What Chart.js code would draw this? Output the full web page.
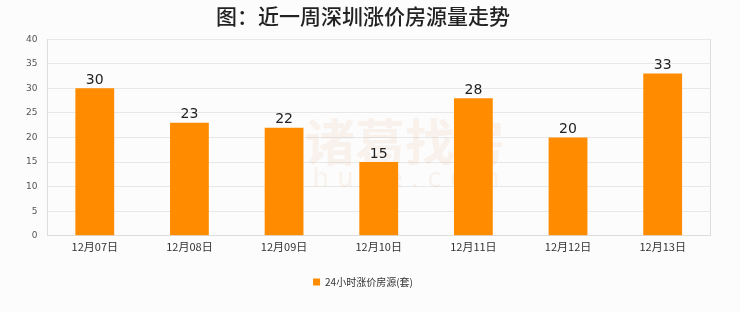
<!DOCTYPE html>
<html>
<head>
<meta charset="utf-8">
<script src="https://cdn.jsdelivr.net/npm/chart.js@4.4.0/dist/chart.umd.min.js"></script>
<style>
  html, body { margin: 0; padding: 0; background: #fcfcfc; }
  #wrap { width: 740px; height: 312px; position: relative; }
</style>
</head>
<body>
<div id="wrap"><canvas id="chart"></canvas></div>
<script>
// 数据
const days = ['12月07日', '12月08日', '12月09日', '12月10日', '12月11日', '12月12日', '12月13日'];
const risingListings = [30, 23, 22, 15, 28, 20, 33];
const seriesName = '24小时涨价房源(套)';
const chartTitle = '图：近一周深圳涨价房源量走势';

// 柱顶数值 + 水印
const extras = {
    id: 'extras',
    beforeDatasetsDraw(chart) {
        const { ctx } = chart;
        ctx.save();
        ctx.globalAlpha = 0.08;
        ctx.fillStyle = '#d9782a';
        ctx.textAlign = 'center';
        ctx.textBaseline = 'middle';
        ctx.font = 'bold 50px "Noto Sans CJK SC"';
        ctx.fillText('诸葛找房', 405, 142);
        ctx.font = '26px "DejaVu Sans"';
        ctx.fillText('z h u g e . c o m', 395, 180);
        ctx.restore();
    },
    afterDatasetsDraw(chart) {
        const { ctx } = chart;
        const meta = chart.getDatasetMeta(0);
        ctx.save();
        ctx.fillStyle = '#222';
        ctx.font = '14px "DejaVu Sans"';
        ctx.textAlign = 'center';
        ctx.textBaseline = 'bottom';
        meta.data.forEach((bar, i) => {
            ctx.fillText(risingListings[i], bar.x, bar.y - 1);
        });
        ctx.restore();
    }
};

new Chart(document.getElementById('chart'), {
    type: 'bar',
    data: {
        labels: days,
        datasets: [{
            label: seriesName,
            data: risingListings,
            backgroundColor: '#ff8c00',
            borderWidth: 0,
            categoryPercentage: 1,
            barPercentage: 0.41
        }]
    },
    options: {
        responsive: true,
        maintainAspectRatio: false,
        animation: false,
        layout: { padding: { left: 16, right: 30, top: 0, bottom: 15 } },
        plugins: {
            title: {
                display: true,
                text: chartTitle,
                color: '#222',
                font: { size: 21, weight: '500', family: '"Noto Sans CJK SC"' },
                padding: { top: 3, bottom: 11 }
            },
            legend: {
                position: 'bottom',
                labels: {
                    boxWidth: 7,
                    boxHeight: 7,
                    color: '#333',
                    font: { size: 10, family: '"Noto Sans CJK SC"' },
                    padding: 20
                }
            },
            tooltip: { enabled: false }
        },
        scales: {
            x: {
                grid: { display: false, drawTicks: false },
                border: { color: '#dddddd' },
                ticks: {
                    color: '#333',
                    font: { size: 11, family: '"Noto Sans CJK SC"' },
                    padding: 4
                }
            },
            y: {
                min: 0,
                max: 40,
                ticks: {
                    stepSize: 5,
                    color: '#555',
                    font: { size: 9, family: '"DejaVu Sans"' },
                    padding: 10
                },
                grid: { color: '#e8e8e8', drawTicks: false },
                border: { color: '#dddddd' }
            },
            y2: {
                position: 'right',
                min: 0,
                max: 40,
                ticks: { display: false },
                grid: { display: false, drawTicks: false },
                border: { color: '#dddddd' }
            }
        }
    },
    plugins: [extras]
});
</script>
</body>
</html>
